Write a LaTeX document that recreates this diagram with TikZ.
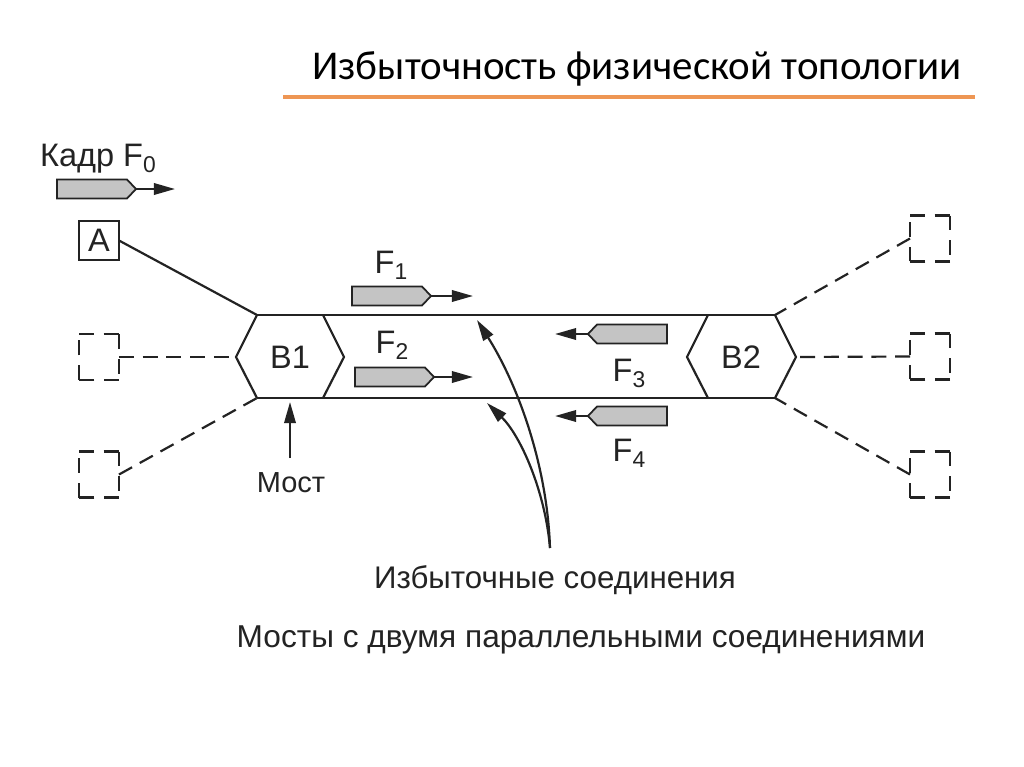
\documentclass[tikz,border=0pt]{standalone}
\usepackage{fontspec}
\setmainfont{Liberation Sans}
\newfontfamily\titlefont{Carlito}
\usetikzlibrary{arrows.meta,calc}
\definecolor{orng}{RGB}{238,150,84}
\definecolor{framegray}{RGB}{196,196,196}
\definecolor{ink}{RGB}{35,35,35}
\newcommand\subsc[1]{\raisebox{-3.5pt}{\fontsize{13}{13}\selectfont #1}}
\tikzset{
  frameR/.pic={\draw[line width=1pt, fill=framegray] (-35,-9.5) -- (35,-9.5) -- (44,0) -- (35,9.5) -- (-35,9.5) -- cycle;
               \coordinate (-tip) at (44,0);},
  frameL/.pic={\draw[line width=1pt, fill=framegray] (35,-9.5) -- (-35,-9.5) -- (-44,0) -- (-35,9.5) -- (35,9.5) -- cycle;
               \coordinate (-tip) at (-44,0);}
}
\begin{document}
\begin{tikzpicture}[x=0.02cm,y=-0.02cm, line width=1.25pt, draw=ink, text=ink,
  lbl/.style={font=\fontsize{18.5}{21}\selectfont, inner sep=0pt, anchor=base},
  hostbox/.style={draw, minimum width=0.8cm, minimum height=0.78cm, inner sep=0pt, outer sep=0pt, font=\fontsize{18.5}{21}\selectfont},
  dhost/.style={minimum width=0.8cm, minimum height=0.92cm, inner sep=0pt, outer sep=0pt},
  dsides/.style={line width=1.25pt, dash pattern=on 8.5pt off 5.5pt},
  dlink/.style={line width=1.25pt, dash pattern=on 8.5pt off 5pt},
  arr/.style={-{Triangle[length=12pt,width=6.5pt]}, line width=1.25pt},
]
\useasboundingbox (0,0) rectangle (1024,767);

% title
\node[font=\titlefont\fontsize{23.3}{28}\selectfont, text=black, anchor=base, inner sep=0pt] (title) at (637,80) {Избыточность физической топологии};
\coordinate (ol) at (283,97);
\coordinate (or) at (975,97);
\draw[orng, line width=2.4pt] (ol) -- (or);

% frame F0
\node[lbl] (kadr) at (98,166) {Кадр F\subsc{0}};
\pic (f0) at (92,189) {frameR};
\coordinate (f0e) at (175,189);
\draw[arr] (f0-tip) -- (f0e);

% host A
\node[hostbox] (A) at (99,240.5) {A};

% dashed hosts
\node[dhost] (L1) at (99,357) {};
\node[dhost] (L2) at (99,474.5) {};
\node[dhost] (R1) at (930,238.5) {};
\node[dhost] (R2) at (930,356.5) {};
\node[dhost] (R3) at (930,474.5) {};
\foreach \n in {L1,L2,R1,R2,R3}
  \draw[dsides] (\n.north west) -- (\n.north east) (\n.north east) -- (\n.south east)
                (\n.south east) -- (\n.south west) (\n.south west) -- (\n.north west);

% bridges
\coordinate (B1nw) at (257,315); \coordinate (B1ne) at (323,315);
\coordinate (B1e) at (344,357);  \coordinate (B1se) at (323,398);
\coordinate (B1sw) at (257,398); \coordinate (B1w) at (236,357);
\coordinate (B2nw) at (708,315); \coordinate (B2ne) at (775,315);
\coordinate (B2e) at (796,357);  \coordinate (B2se) at (775,398);
\coordinate (B2sw) at (708,398); \coordinate (B2w) at (687,357);
\draw (B1nw) -- (B1w) -- (B1sw) (B1ne) -- (B1e) -- (B1se);
\draw (B2nw) -- (B2w) -- (B2sw) (B2ne) -- (B2e) -- (B2se);
\draw (B1nw) -- (B2ne);
\draw (B1sw) -- (B2se);
\node[lbl, anchor=center] (B1) at (290,357) {B1};
\node[lbl, anchor=center] (B2) at (741,357) {B2};

% links
\draw (A.east) -- (B1nw);
\draw[dlink] (L1.east) -- (B1w);
\draw[dlink] (L2.east) -- (B1sw);
\draw[dlink] (R1.west) -- (B2ne);
\draw[dlink] (R2.west) -- (B2e);
\draw[dlink] (R3.west) -- (B2se);

% frames
\node[lbl] (lf1) at (391,273) {F\subsc{1}};
\pic (f1) at (387,296) {frameR};
\coordinate (f1e) at (473,296);
\draw[arr] (f1-tip) -- (f1e);

\node[lbl] (lf2) at (392,353) {F\subsc{2}};
\pic (f2) at (390,377) {frameR};
\coordinate (f2e) at (473,377);
\draw[arr] (f2-tip) -- (f2e);

\pic (f3) at (632,334) {frameL};
\coordinate (f3e) at (555,334);
\draw[arr] (f3-tip) -- (f3e);
\node[lbl] (lf3) at (629,381) {F\subsc{3}};

\pic (f4) at (632,416) {frameL};
\coordinate (f4e) at (555,416);
\draw[arr] (f4-tip) -- (f4e);
\node[lbl] (lf4) at (629,461) {F\subsc{4}};

% bridge label
\node[lbl, font=\fontsize{16.5}{19}\selectfont] (most) at (291,492) {Мост};
\coordinate (mosttop) at (290,458);
\coordinate (mosttip) at (290,402);
\draw[arr] (mosttop) -- (mosttip);

% redundant links label
\node[lbl, font=\fontsize{17.8}{20}\selectfont] (izb) at (555,588) {Избыточные соединения};
\coordinate (src) at (550,548);
\coordinate (e1) at (477,320);
\coordinate (e2) at (487,403);
\draw[arr] (src) .. controls (547,460) and (515,380) .. (e1);
\draw[arr] (src) .. controls (545,490) and (520,435) .. (e2);

% caption
\node[lbl, font=\fontsize{18}{21}\selectfont] (cap) at (581,647) {Мосты с двумя параллельными соединениями};
\end{tikzpicture}
\end{document}
